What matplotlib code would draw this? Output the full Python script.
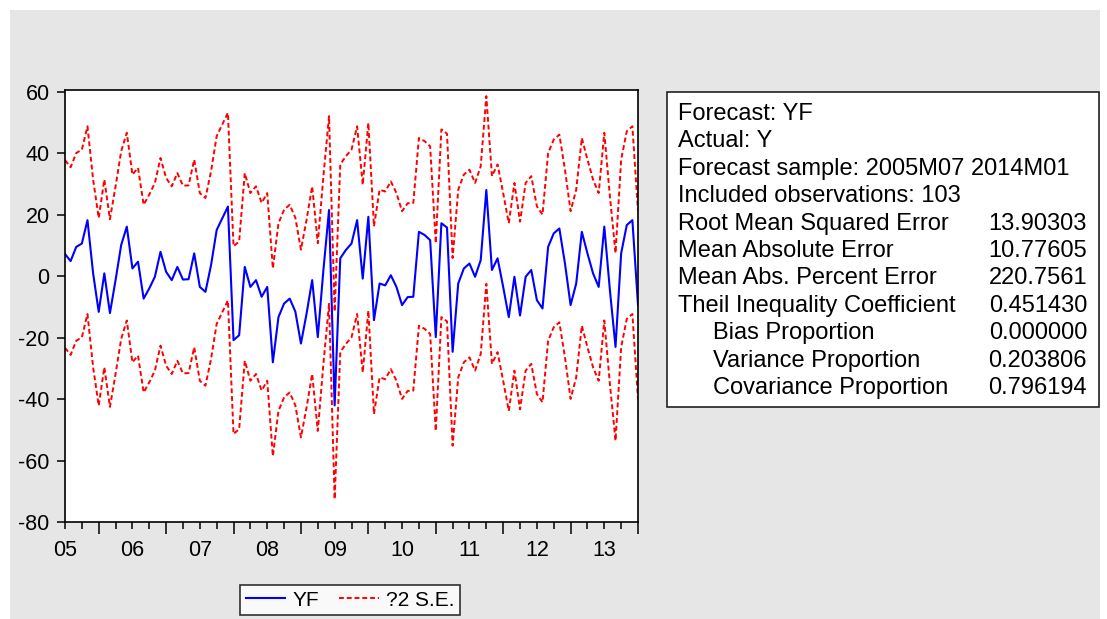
import numpy as np
import matplotlib.pyplot as plt
from matplotlib.patches import Rectangle
from matplotlib.lines import Line2D

plt.rcParams['font.family'] = ['Liberation Sans', 'DejaVu Sans']
plt.rcParams['axes.unicode_minus'] = False

# Forecast YF, 2005M07 .. 2014M01 (103 monthly obs)
yf = [7.2, 4.9, 9.5, 10.6, 18.2, 1.0, -11.6, 0.9, -12.0, -1.3,
      10.1, 16.1, 2.5, 4.7, -7.3, -4.0, -0.2, 7.9, 1.4, -1.3,
      3.0, -1.1, -1.0, 7.4, -3.5, -5.1, 3.6, 15.0, 18.8, 22.6,
      -20.8, -19.2, 3.0, -3.5, -1.3, -6.7, -3.5, -28.0, -13.3, -8.9,
      -7.3, -11.5, -21.9, -12.2, -1.3, -19.8, 2.0, 21.5, -42.0, 5.8,
      8.5, 10.6, 18.2, -0.8, 19.3, -14.3, -2.4, -3.0, 0.3, -3.5,
      -9.4, -6.8, -6.7, 14.4, 13.4, 11.7, -19.8, 17.2, 15.8, -24.6,
      -2.4, 2.5, 4.1, -0.2, 5.2, 28.0, 2.0, 5.8, -3.5, -13.3,
      -0.2, -12.8, -0.2, 2.0, -7.8, -10.5, 9.5, 13.9, 15.5, 4.1,
      -9.4, -2.4, 14.4, 7.4, 0.9, -3.5, 16.1, -4.6, -23.0, 7.4,
      16.6, 18.2, -9.4]
two_se = 30.5   # distance between forecast and the +/-2 S.E. band

year_labels = ['05', '06', '07', '08', '09', '10', '11', '12', '13']

stat_names = ['Root Mean Squared Error', 'Mean Absolute Error',
              'Mean Abs. Percent Error', 'Theil Inequality Coefficient',
              'Bias Proportion', 'Variance Proportion',
              'Covariance Proportion']
stat_indent = [False, False, False, False, True, True, True]
stat_values = ['13.90303', '10.77605', '220.7561', '0.451430',
               '0.000000', '0.203806', '0.796194']
header_lines = ['Forecast: YF', 'Actual: Y',
                'Forecast sample: 2005M07 2014M01',
                'Included observations: 103']

W, H = 1107, 619
fig = plt.figure(figsize=(W / 100, H / 100), dpi=100)
fig.patch.set_facecolor('white')
fig.add_artist(Rectangle((10 / W, 0), 1090 / W, 1 - 10 / H,
                         transform=fig.transFigure, facecolor='#e6e6e6',
                         edgecolor='none', zorder=-10))

x = np.arange(len(yf))
yf_arr = np.array(yf)

ax = fig.add_axes([65 / W, 1 - 522.3 / H, 573 / W, 432.3 / H])
ax.set_facecolor('white')
ax.plot(x, yf_arr + two_se, color='#ff0000', lw=1.4, dashes=(2.5, 1.5))
ax.plot(x, yf_arr - two_se, color='#ff0000', lw=1.4, dashes=(2.5, 1.5))
ax.plot(x, yf_arr, color='#0000ff', lw=1.5)

ax.set_xlim(0, len(yf) - 1)
ax.set_ylim(-80, 60.5)
ax.set_yticks(np.arange(-80, 61, 20))
ax.tick_params(axis='y', direction='out', length=6, width=1.1, pad=5,
               labelsize=15.5, colors='black')

# long ticks at January, short ticks every quarter, year labels at July
jan = np.arange(6, len(yf), 12)
quarters = np.arange(0, len(yf), 3)
ax.set_xticks(jan, labels=[''] * len(jan))
labels = []
for q in quarters:
    labels.append(year_labels[q // 12] if q % 12 == 0 and q // 12 < len(year_labels) else '')
ax.set_xticks(quarters, labels=labels, minor=True)
ax.tick_params(axis='x', which='major', direction='out', length=8.6, width=1.1)
ax.tick_params(axis='x', which='minor', direction='out', length=5, width=1.1,
               pad=8, labelsize=15.5)
for sp in ax.spines.values():
    sp.set_linewidth(1.2)
    sp.set_color('black')

handles = [Line2D([], [], color='#0000ff', lw=1.5),
           Line2D([], [], color='#ff0000', lw=1.4, dashes=(2.5, 1.5))]
leg = fig.legend(handles, ['YF', '?2 S.E.'], loc='center', ncol=2,
                 bbox_to_anchor=(350 / W, 1 - 600 / H), fontsize=15,
                 frameon=True, fancybox=False, handlelength=1.9,
                 handletextpad=0.35, columnspacing=0.95, borderpad=0.25)
leg.get_frame().set_edgecolor('black')
leg.get_frame().set_linewidth(1.2)
leg.get_frame().set_facecolor('white')

# statistics box
fig.add_artist(Rectangle((667 / W, 1 - 407 / H), 432 / W, 315 / H,
                         transform=fig.transFigure, facecolor='white',
                         edgecolor='#222222', lw=1.2))
for i, txt in enumerate(header_lines):
    yb = 1 - (120 + 27.4 * i) / H
    fig.text(678 / W, yb, txt, fontsize=17, va='baseline', ha='left',
             color='black')
for i, (name, val) in enumerate(zip(stat_names, stat_values)):
    yb = 1 - (120 + 27.4 * (i + len(header_lines))) / H
    xl = 713 if stat_indent[i] else 678
    fig.text(xl / W, yb, name, fontsize=17, va='baseline', ha='left',
             color='black')
    fig.text(1087 / W, yb, val, fontsize=17, va='baseline', ha='right',
             color='black')

plt.savefig('out.png', dpi=100)
